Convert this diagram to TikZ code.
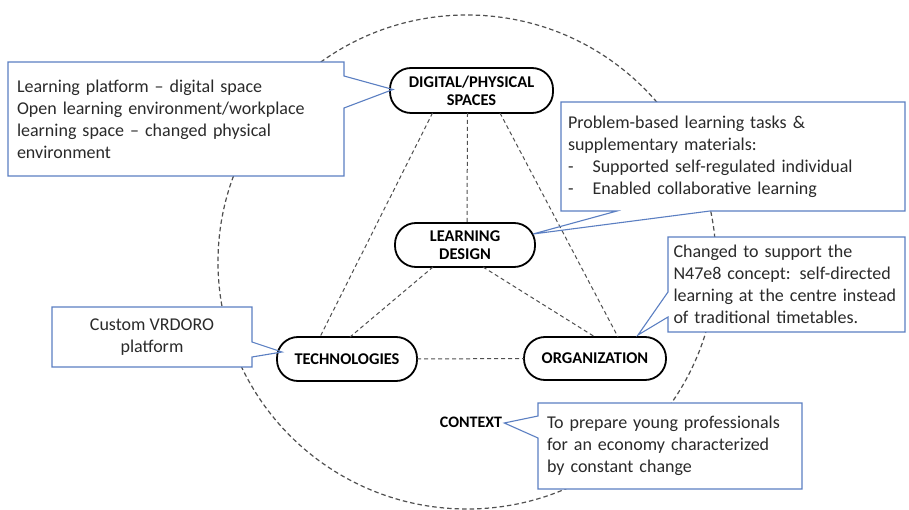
\documentclass[tikz,border=0pt]{standalone}
\usepackage{fontspec}
\setmainfont{Carlito}
\usetikzlibrary{calc}
\definecolor{cblue}{HTML}{5B7FC2}
\definecolor{ctext}{HTML}{2A2A2A}
\definecolor{dgray}{HTML}{505050}
\begin{document}
\begin{tikzpicture}[x=1pt,y=-1pt,
  concept/.style={draw=black, line width=1.8pt, rounded corners=21pt, fill=white,
    inner sep=0pt, outer sep=0pt, align=center, font=\fontsize{16.4}{18}\selectfont\bfseries, text=black},
  calloutbox/.style={fill=white, inner sep=0pt, outer sep=0pt, text=ctext,
    font=\fontsize{18}{22}\selectfont},
  callout/.style={draw=cblue, line width=1.1pt, line join=miter},
  link/.style={draw=dgray, line width=1pt, dash pattern=on 4pt off 3pt},
  ring/.style={draw=dgray, line width=1.2pt, dash pattern=on 4.5pt off 3pt}
]
\useasboundingbox (0,0) rectangle (909,510);
\fill[white] (0,0) rectangle (909,510);

% outer dashed circle
\draw[ring] (467,262) ellipse [x radius=249, y radius=247];

% concept nodes
\node[concept, minimum width=163pt, minimum height=45pt] (dps) at (471.5,90.5) {DIGITAL/PHYSICAL\\SPACES};
\node[concept, minimum width=140pt, minimum height=44pt] (ld) at (465,245) {LEARNING\\DESIGN};
\node[concept, minimum width=140pt, minimum height=44pt] (tech) at (347,359) {TECHNOLOGIES};
\node[concept, minimum width=142pt, minimum height=43pt] (org) at (595,358.5) {ORGANIZATION};
\node[inner sep=0pt, font=\fontsize{16}{18}\selectfont\bfseries] (ctx) at (471,422) {CONTEXT};

% dashed links
\draw[link] ($(dps.south)+(-4,0)$) -- ($(ld.north)+(2,0)$);
\draw[link] ($(dps.south)+(-39,0)$) -- ($(tech.north)+(-27,0)$);
\draw[link] ($(dps.south)+(28.5,0)$) -- ($(org.north)+(23,0)$);
\draw[link] ($(ld.south)+(-32,0)$) -- ($(tech.north)+(3,0)$);
\draw[link] ($(ld.south)+(18,0)$) -- (org.north);
\draw[link] (tech.east) -- (org.west);

% callout boxes
\node[calloutbox, minimum width=336pt, minimum height=114pt, text width=318pt, align=left] (c1) at (176,119)
  {Learning platform – digital space\\Open learning environment/workplace\\learning space – changed physical\\environment};
\node[calloutbox, minimum width=344pt, minimum height=109pt, text width=330pt, align=left] (c2) at (733,156.5)
  {Problem-based learning tasks \&\\supplementary materials:\\-\hspace{19pt}Supported self-regulated individual\\-\hspace{19pt}Enabled collaborative learning};
\node[calloutbox, minimum width=237pt, minimum height=95pt, text width=226pt, align=left] (c3) at (786.5,284.5)
  {Changed to support the\\N47e8 concept: self-directed\\learning at the centre instead\\of traditional timetables.};
\node[calloutbox, minimum width=264pt, minimum height=86pt, text width=246pt, align=left] (c4) at (670,446)
  {To prepare young professionals\\for an economy characterized\\by constant change};
\node[calloutbox, minimum width=200pt, minimum height=60pt, align=center] (c5) at (152,337)
  {Custom VRDORO\\platform};

% callout outlines with pointers
\draw[callout] (c1.north west) -- (c1.north east) -- ($(c1.north east)+(0,14)$)
  -- ($(dps.west)+(3,-1)$) -- ($(c1.north east)+(0,46)$) -- (c1.south east) -- (c1.south west) -- cycle;
\draw[callout] (c2.north west) -- (c2.north east) -- (c2.south east) -- ($(c2.south west)+(149,0)$)
  -- ($(ld.east)+(-2,-11)$) -- ($(c2.south west)+(56,0)$) -- (c2.south west) -- cycle;
\draw[callout] (c3.north west) -- (c3.north east) -- (c3.south east) -- (c3.south west)
  -- ($(c3.south west)+(0,-15)$) -- ($(org.north east)+(-28,-2)$) -- ($(c3.north west)+(0,55)$) -- cycle;
\draw[callout] (c4.north west) -- (c4.north east) -- (c4.south east) -- (c4.south west)
  -- ($(c4.north west)+(0,35)$) -- ($(ctx.east)+(2,1)$) -- ($(c4.north west)+(0,13)$) -- cycle;
\draw[callout] (c5.north west) -- (c5.north east) -- ($(c5.north east)+(0,35)$)
  -- ($(tech.west)+(5,-7)$) -- ($(c5.north east)+(0,50)$) -- (c5.south east) -- (c5.south west) -- cycle;
\end{tikzpicture}
\end{document}
